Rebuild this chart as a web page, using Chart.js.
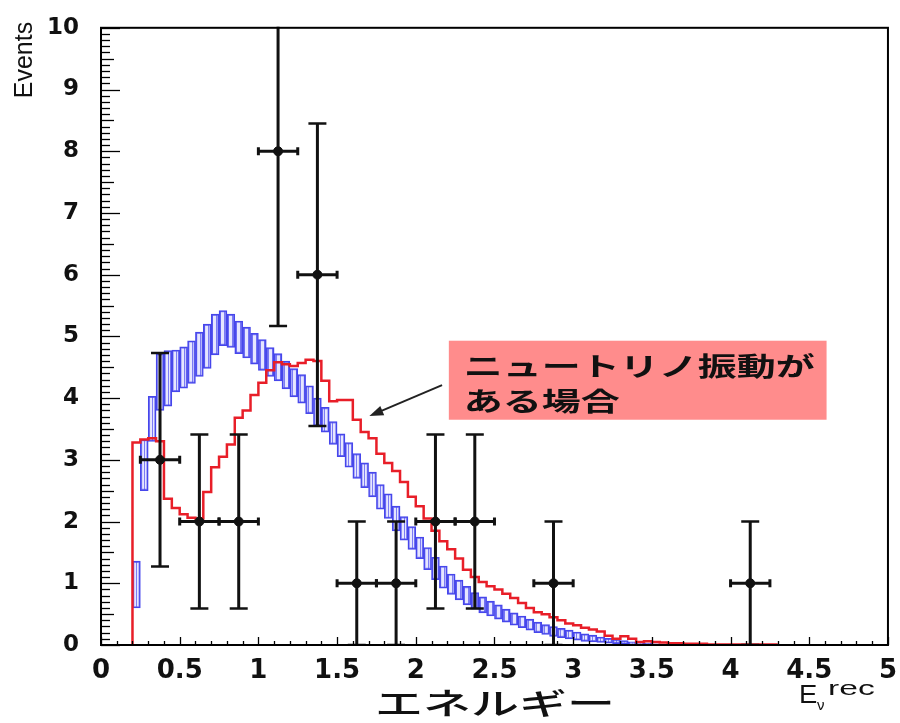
<!DOCTYPE html>
<html>
<head>
  <meta charset="utf-8">
  <title>ニュートリノ振動</title>
  <script src="https://cdn.jsdelivr.net/npm/chart.js"></script>
  <style>
    body { margin: 0; background: #fff; }
  </style>
</head>
<body>
  <canvas id="myChart" width="900" height="723"></canvas>
  <script>
    // ビンの左端 (幅 0.05)
    const binWidth = 0.05;
    const binLeft = [
      0.20, 0.25, 0.30, 0.35, 0.40, 0.45, 0.50, 0.55, 0.60, 0.65,
      0.70, 0.75, 0.80, 0.85, 0.90, 0.95, 1.00, 1.05, 1.10, 1.15,
      1.20, 1.25, 1.30, 1.35, 1.40, 1.45, 1.50, 1.55, 1.60, 1.65,
      1.70, 1.75, 1.80, 1.85, 1.90, 1.95, 2.00, 2.05, 2.10, 2.15,
      2.20, 2.25, 2.30, 2.35, 2.40, 2.45, 2.50, 2.55, 2.60, 2.65,
      2.70, 2.75, 2.80, 2.85, 2.90, 2.95, 3.00, 3.05, 3.10, 3.15,
      3.20, 3.25, 3.30, 3.35, 3.40, 3.45, 3.50, 3.55, 3.60, 3.65,
      3.70, 3.75, 3.80, 3.85, 3.90, 3.95, 4.00, 4.05, 4.10, 4.15,
      4.20, 4.25
    ];
    // 振動なしの予測 (青い誤差の帯): 下限と上限
    const blueLow = [
      0.60, 2.50, 3.30, 3.80, 3.87, 4.10, 4.16, 4.24, 4.35, 4.48,
      4.70, 4.85, 4.82, 4.72, 4.65, 4.55, 4.45, 4.35, 4.28, 4.15,
      4.02, 3.92, 3.75, 3.55, 3.45, 3.25, 3.05, 2.88, 2.70, 2.55,
      2.40, 2.20, 2.05, 1.85, 1.70, 1.55, 1.40, 1.22, 1.06, 0.92,
      0.82, 0.73, 0.65, 0.58, 0.52, 0.47, 0.42, 0.37, 0.32, 0.28,
      0.24, 0.20, 0.17, 0.14, 0.12, 0.10, 0.08, 0.06, 0.05, 0.04,
      0.03, 0.02, 0.02, 0.01, 0.01, 0.00, 0.00
    ];
    const blueHigh = [
      1.36, 3.33, 4.03, 4.72, 4.77, 4.78, 4.83, 4.93, 5.07, 5.20,
      5.36, 5.42, 5.36, 5.25, 5.15, 5.05, 4.95, 4.82, 4.72, 4.60,
      4.48, 4.38, 4.20, 4.00, 3.85, 3.62, 3.42, 3.28, 3.10, 2.95,
      2.80, 2.60, 2.45, 2.25, 2.08, 1.92, 1.75, 1.58, 1.42, 1.28,
      1.15, 1.05, 0.95, 0.85, 0.78, 0.71, 0.65, 0.58, 0.52, 0.47,
      0.42, 0.37, 0.33, 0.30, 0.27, 0.24, 0.21, 0.18, 0.16, 0.13,
      0.11, 0.09, 0.07, 0.05, 0.04, 0.03, 0.02
    ];
    // 振動ありの予測 (赤いヒストグラム)
    const redValues = [
      3.28, 3.33, 3.35, 3.30, 2.37, 2.22, 2.12, 2.06, 2.05, 2.48,
      2.88, 3.05, 3.25, 3.68, 3.80, 4.05, 4.25, 4.45, 4.58, 4.55,
      4.52, 4.57, 4.62, 4.60, 4.28, 3.95, 3.97, 3.97, 3.65, 3.45,
      3.35, 3.10, 2.95, 2.82, 2.64, 2.40, 2.25, 2.05, 1.85, 1.68,
      1.55, 1.40, 1.22, 1.10, 1.02, 0.95, 0.90, 0.83, 0.76, 0.68,
      0.60, 0.53, 0.50, 0.45, 0.40, 0.35, 0.32, 0.28, 0.25, 0.22,
      0.15, 0.10, 0.14, 0.10, 0.05, 0.06, 0.05, 0.04, 0.03, 0.03,
      0.02, 0.02, 0.02, 0.01, 0.01, 0.01, 0.01, 0.01, 0.01, 0.01,
      0.01, 0.01
    ];
    // 観測データ (黒い点) と誤差
    const dataX = [0.375, 0.625, 0.875, 1.125, 1.375, 1.625, 1.875, 2.125, 2.375, 2.875, 4.125];
    const dataY = [3, 2, 2, 8, 6, 1, 1, 2, 2, 1, 1];
    const dataErr = [1.73, 1.41, 1.41, 2.83, 2.45, 1, 1, 1.41, 1.41, 1, 1];
    const dataHalfWidth = 0.125;

    const xTickLabels = ['0', '0.5', '1', '1.5', '2', '2.5', '3', '3.5', '4', '4.5', '5'];
    const yTickLabels = ['0', '1', '2', '3', '4', '5', '6', '7', '8', '9', '10'];

    // 注釈 (データ座標)
    const noteBox = { x1: 2.21, x2: 4.61, y1: 4.93, y2: 3.65 };
    const noteLines = ['ニュートリノ振動が', 'ある場合'];
    const arrowFrom = { x: 2.167, y: 4.21 };
    const arrowTo = { x: 1.705, y: 3.71 };

    // 青い帯のハッチング
    function makeHatch() {
      const c = document.createElement('canvas');
      c.width = 4; c.height = 4;
      const g = c.getContext('2d');
      g.fillStyle = 'rgba(205,205,255,0.5)';
      g.fillRect(0, 0, 4, 4);
      g.fillStyle = 'rgba(80,80,240,0.7)';
      g.fillRect(0, 0, 1, 4);
      return g.createPattern(c, 'repeat');
    }

    const blueData = blueLow.map((lo, i) => ({ x: binLeft[i] + binWidth / 2, y: [lo, blueHigh[i]] }));
    const redData = [{ x: binLeft[0], y: 0 }]
      .concat(redValues.map((v, i) => ({ x: binLeft[i], y: v })))
      .concat([{ x: binLeft[binLeft.length - 1] + binWidth, y: redValues[redValues.length - 1] }]);
    const pointData = dataX.map((v, i) => ({ x: v, y: dataY[i] }));

    function line(ctx, x1, y1, x2, y2) {
      ctx.beginPath(); ctx.moveTo(x1, y1); ctx.lineTo(x2, y2); ctx.stroke();
    }

    const rootStyle = {
      id: 'rootStyle',
      afterDatasetsDraw(chart) {
        const { ctx, chartArea: a, scales: { x, y } } = chart;

        // 誤差棒
        ctx.save();
        ctx.beginPath(); ctx.rect(a.left, a.top - 1, a.width, a.height + 1); ctx.clip();
        ctx.strokeStyle = '#111';
        dataX.forEach((v, i) => {
          const px = x.getPixelForValue(v);
          const py = y.getPixelForValue(dataY[i]);
          const top = y.getPixelForValue(dataY[i] + dataErr[i]);
          const bot = y.getPixelForValue(dataY[i] - dataErr[i]);
          const l = x.getPixelForValue(v - dataHalfWidth);
          const r = x.getPixelForValue(v + dataHalfWidth);
          ctx.lineWidth = 3;
          line(ctx, px, top, px, bot);
          line(ctx, l, py, r, py);
          ctx.lineWidth = 2.5;
          line(ctx, px - 9, top, px + 9, top);
          line(ctx, px - 9, bot, px + 9, bot);
          ctx.lineWidth = 3;
          line(ctx, l, py - 4, l, py + 4);
          line(ctx, r, py - 4, r, py + 4);
        });
        ctx.restore();

        // 枠と目盛り
        ctx.save();
        ctx.strokeStyle = '#000';
        ctx.lineWidth = 2;
        ctx.strokeRect(a.left, a.top, a.width, a.height);
        ctx.lineWidth = 1.3;
        for (let k = 0; k <= 100; k++) {
          const v = k / 10;
          const py = Math.round(y.getPixelForValue(v)) + 0.5;
          const len = k % 10 === 0 ? 19 : (k % 5 === 0 ? 13 : 9);
          line(ctx, a.left, py, a.left + len, py);
        }
        for (let k = 0; k <= 50; k++) {
          const v = k / 10;
          const px = Math.round(x.getPixelForValue(v)) + 0.5;
          const len = k % 5 === 0 ? 8 : 4;
          line(ctx, px, a.bottom, px, a.bottom - len);
        }
        ctx.restore();

        // 注釈の箱
        ctx.save();
        const bx1 = x.getPixelForValue(noteBox.x1), bx2 = x.getPixelForValue(noteBox.x2);
        const by1 = y.getPixelForValue(noteBox.y1), by2 = y.getPixelForValue(noteBox.y2);
        ctx.fillStyle = '#ff8c8c';
        ctx.fillRect(bx1, by1, bx2 - bx1, by2 - by1);
        ctx.fillStyle = '#111';
        ctx.font = 'bold 26px "Noto Sans CJK JP"';
        ctx.textBaseline = 'middle';
        ctx.textAlign = 'left';
        noteLines.forEach((t, i) => {
          ctx.save();
          ctx.translate(bx1 + 15, by1 + 25 + i * 35);
          ctx.scale(1.5, 1);
          ctx.fillText(t, 0, 0);
          ctx.restore();
        });

        // 矢印
        const ax1 = x.getPixelForValue(arrowFrom.x), ay1 = y.getPixelForValue(arrowFrom.y);
        const ax2 = x.getPixelForValue(arrowTo.x), ay2 = y.getPixelForValue(arrowTo.y);
        const ang = Math.atan2(ay2 - ay1, ax2 - ax1);
        ctx.strokeStyle = '#222';
        ctx.lineWidth = 2;
        line(ctx, ax1, ay1, ax2 - 8 * Math.cos(ang), ay2 - 8 * Math.sin(ang));
        ctx.fillStyle = '#222';
        ctx.beginPath();
        ctx.moveTo(ax2, ay2);
        ctx.lineTo(ax2 - 14 * Math.cos(ang) + 5 * Math.sin(ang), ay2 - 14 * Math.sin(ang) - 5 * Math.cos(ang));
        ctx.lineTo(ax2 - 14 * Math.cos(ang) - 5 * Math.sin(ang), ay2 - 14 * Math.sin(ang) + 5 * Math.cos(ang));
        ctx.closePath();
        ctx.fill();
        ctx.restore();
      },
      afterDraw(chart) {
        const { ctx } = chart;
        ctx.save();
        ctx.fillStyle = '#111';
        // 縦軸タイトル
        ctx.save();
        ctx.translate(25, 60);
        ctx.rotate(-Math.PI / 2);
        ctx.font = '25px "Liberation Sans"';
        ctx.textAlign = 'center';
        ctx.textBaseline = 'middle';
        ctx.fillText('Events', 0, 0);
        ctx.restore();
        // 横軸タイトル
        ctx.save();
        ctx.translate(495, 703);
        ctx.scale(1.6, 1);
        ctx.font = '500 30px "Noto Sans CJK JP"';
        ctx.textAlign = 'center';
        ctx.textBaseline = 'middle';
        ctx.fillText('エネルギー', 0, 0);
        ctx.restore();
        // E_v^rec
        ctx.textAlign = 'left';
        ctx.textBaseline = 'alphabetic';
        ctx.save();
        ctx.translate(799, 703);
        ctx.scale(1.1, 1);
        ctx.font = '25px "Liberation Sans"';
        ctx.fillText('E', 0, 0);
        ctx.restore();
        ctx.font = '15px "Liberation Sans"';
        ctx.fillText('ν', 817, 710);
        ctx.save();
        ctx.translate(828, 695);
        ctx.scale(1.6, 1);
        ctx.font = '21px "Liberation Sans"';
        ctx.fillText('rec', 0, 0);
        ctx.restore();
        ctx.restore();
      }
    };

    const ctx = document.getElementById('myChart').getContext('2d');
    const myChart = new Chart(ctx, {
      type: 'bar',
      data: {
        datasets: [
          {
            type: 'bar',
            data: blueData,
            backgroundColor: makeHatch(),
            borderColor: 'rgb(70,70,235)',
            borderWidth: 1.5,
            borderSkipped: false,
            barPercentage: 1,
            categoryPercentage: 1,
            order: 3
          },
          {
            type: 'line',
            data: redData,
            borderColor: 'rgb(232,30,40)',
            borderWidth: 2.5,
            stepped: true,
            pointRadius: 0,
            fill: false,
            order: 2
          },
          {
            type: 'scatter',
            data: pointData,
            backgroundColor: '#111',
            borderColor: '#111',
            pointRadius: 4.5,
            order: 1
          }
        ]
      },
      options: {
        responsive: false,
        animation: false,
        layout: { padding: { top: 21, right: 10, left: 0, bottom: 0 } },
        plugins: { legend: { display: false }, tooltip: { enabled: false } },
        scales: {
          x: {
            type: 'linear',
            min: 0,
            max: 5,
            offset: false,
            grid: { display: false },
            border: { display: false },
            ticks: {
              stepSize: 0.5,
              color: '#111',
              padding: 3,
              maxRotation: 0,
              font: { family: 'DejaVu Sans', weight: 'bold', size: 26 },
              callback: (value, index) => xTickLabels[index]
            },
            afterFit: s => { s.height = 78; }
          },
          y: {
            min: 0,
            max: 10,
            grid: { display: false },
            border: { display: false },
            ticks: {
              stepSize: 1,
              color: '#111',
              padding: 14,
              font: { family: 'DejaVu Sans', weight: 'bold', size: 23 },
              callback: (value, index) => yTickLabels[index]
            },
            afterFit: s => { s.width = 101; }
          }
        }
      },
      plugins: [rootStyle]
    });
  </script>
</body>
</html>
